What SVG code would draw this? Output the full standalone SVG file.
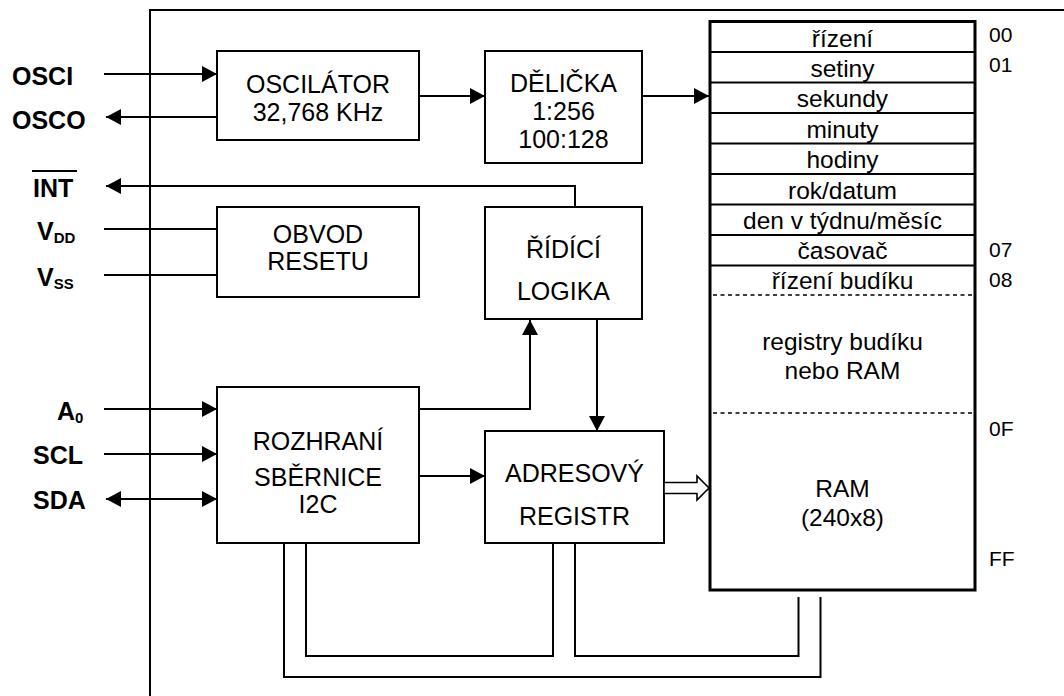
<svg xmlns="http://www.w3.org/2000/svg" width="1064" height="696" viewBox="0 0 1064 696">
<style>
text{font-family:"Liberation Sans",Arial,sans-serif;fill:#000}
.blk{font-size:25px;text-anchor:middle}
.lbl{font-size:25px;font-weight:bold}
.sub{font-size:15px;font-weight:bold}
.reg{font-size:24.5px;text-anchor:middle}
.num{font-size:21px}
.box{fill:#fff;stroke:#000;stroke-width:2}
.ln{fill:none;stroke:#000;stroke-width:2}
.dash{fill:none;stroke:#000;stroke-width:1.6;stroke-dasharray:4 3.5}
</style>
<defs>
<marker id="arr" viewBox="0 0 15 16" refX="15" refY="8" markerWidth="15" markerHeight="16" markerUnits="userSpaceOnUse" orient="auto-start-reverse">
<path d="M0,0 L15,8 L0,16 z" fill="#000"/>
</marker>
</defs>
<rect width="1064" height="696" fill="#fff"/>
<g id="frame"><path class="ln" d="M150,696 V10 H1064"/></g>

<g id="pins">
<text class="lbl" x="12" y="85">OSCI</text>
<text class="lbl" x="12" y="129">OSCO</text>
<text class="lbl" x="33" y="197">INT</text>
<line x1="32" y1="171" x2="77" y2="171" stroke="#000" stroke-width="2"/>
<text class="lbl" x="37" y="240">V<tspan class="sub" dy="3">DD</tspan></text>
<text class="lbl" x="37" y="286">V<tspan class="sub" dy="3">SS</tspan></text>
<text class="lbl" x="57" y="420">A<tspan class="sub" dy="3">0</tspan></text>
<text class="lbl" x="33" y="464">SCL</text>
<text class="lbl" x="33" y="509">SDA</text>
</g>

<g id="oscilator">
<rect class="box" x="217" y="51" width="202" height="89"/>
<text class="blk" x="318" y="93">OSCILÁTOR</text>
<text class="blk" x="318" y="121">32,768 KHz</text>
</g>
<g id="delicka">
<rect class="box" x="485" y="51" width="157" height="112"/>
<text class="blk" x="563.5" y="92">DĚLIČKA</text>
<text class="blk" x="563.5" y="120">1:256</text>
<text class="blk" x="563.5" y="148">100:128</text>
</g>
<g id="reset">
<rect class="box" x="217" y="207" width="202" height="90"/>
<text class="blk" x="318" y="243">OBVOD</text>
<text class="blk" x="318" y="270">RESETU</text>
</g>
<g id="logika">
<rect class="box" x="485" y="207" width="157" height="112"/>
<text class="blk" x="563.5" y="258">ŘÍDÍCÍ</text>
<text class="blk" x="563.5" y="300">LOGIKA</text>
</g>
<g id="i2c">
<rect class="box" x="217" y="387" width="202" height="156"/>
<text class="blk" x="318" y="450">ROZHRANÍ</text>
<text class="blk" x="318" y="486">SBĚRNICE</text>
<text class="blk" x="318" y="513">I2C</text>
</g>
<g id="adresovy">
<rect class="box" x="485" y="431" width="179" height="112"/>
<text class="blk" x="574.5" y="482">ADRESOVÝ</text>
<text class="blk" x="574.5" y="525">REGISTR</text>
</g>

<g id="registers">
<rect x="710" y="21.5" width="265" height="568.5" fill="#fff" stroke="#000" stroke-width="3"/>
<path class="ln" d="M710,52H975 M710,82.5H975 M710,113H975 M710,143.5H975 M710,174H975 M710,204.5H975 M710,235H975 M710,265.5H975"/>
<path class="dash" d="M713,295H973 M713,413H973"/>
<text class="reg" x="842.5" y="46.5">řízení</text>
<text class="reg" x="842.5" y="77">setiny</text>
<text class="reg" x="842.5" y="107">sekundy</text>
<text class="reg" x="842.5" y="137.5">minuty</text>
<text class="reg" x="842.5" y="168">hodiny</text>
<text class="reg" x="842.5" y="198.5">rok/datum</text>
<text class="reg" x="842.5" y="229">den v týdnu/měsíc</text>
<text class="reg" x="842.5" y="259">časovač</text>
<text class="reg" x="842.5" y="289">řízení budíku</text>
<text class="reg" x="842.5" y="349.5">registry budíku</text>
<text class="reg" x="842.5" y="379">nebo RAM</text>
<text class="reg" x="842.5" y="497">RAM</text>
<text class="reg" x="842.5" y="526">(240x8)</text>
</g>
<g id="addresses">
<text class="num" x="989" y="42">00</text>
<text class="num" x="989" y="72">01</text>
<text class="num" x="989" y="257">07</text>
<text class="num" x="989" y="287">08</text>
<text class="num" x="989" y="436">0F</text>
<text class="num" x="989" y="566">FF</text>
</g>

<g id="connectors">
<line class="ln" x1="104" y1="74" x2="217" y2="74" marker-end="url(#arr)"/>
<line class="ln" x1="217" y1="117" x2="106" y2="117" marker-end="url(#arr)"/>
<polyline class="ln" points="575,207 575,186 106,186" marker-end="url(#arr)"/>
<line class="ln" x1="104" y1="229" x2="217" y2="229"/>
<line class="ln" x1="104" y1="275" x2="217" y2="275"/>
<line class="ln" x1="104" y1="409" x2="217" y2="409" marker-end="url(#arr)"/>
<line class="ln" x1="104" y1="454" x2="217" y2="454" marker-end="url(#arr)"/>
<line class="ln" x1="106" y1="499" x2="217" y2="499" marker-start="url(#arr)" marker-end="url(#arr)"/>
<line class="ln" x1="419" y1="96" x2="485" y2="96" marker-end="url(#arr)"/>
<line class="ln" x1="642" y1="96" x2="709" y2="96" marker-end="url(#arr)"/>
<polyline class="ln" points="419,409 530,409 530,320" marker-end="url(#arr)"/>
<line class="ln" x1="597" y1="319" x2="597" y2="431" marker-end="url(#arr)"/>
<line class="ln" x1="419" y1="476" x2="485" y2="476" marker-end="url(#arr)"/>
<polygon points="664,482.5 697,482.5 697,476 709,488 697,500 697,493.5 664,493.5" fill="#fff" stroke="#000" stroke-width="1.6"/>
<polyline class="ln" points="284,543 284,677 820.5,677 820.5,597"/>
<polyline class="ln" points="306,543 306,656 553,656 553,543"/>
<polyline class="ln" points="575,543 575,656 798.5,656 798.5,597"/>
</g>
</svg>
